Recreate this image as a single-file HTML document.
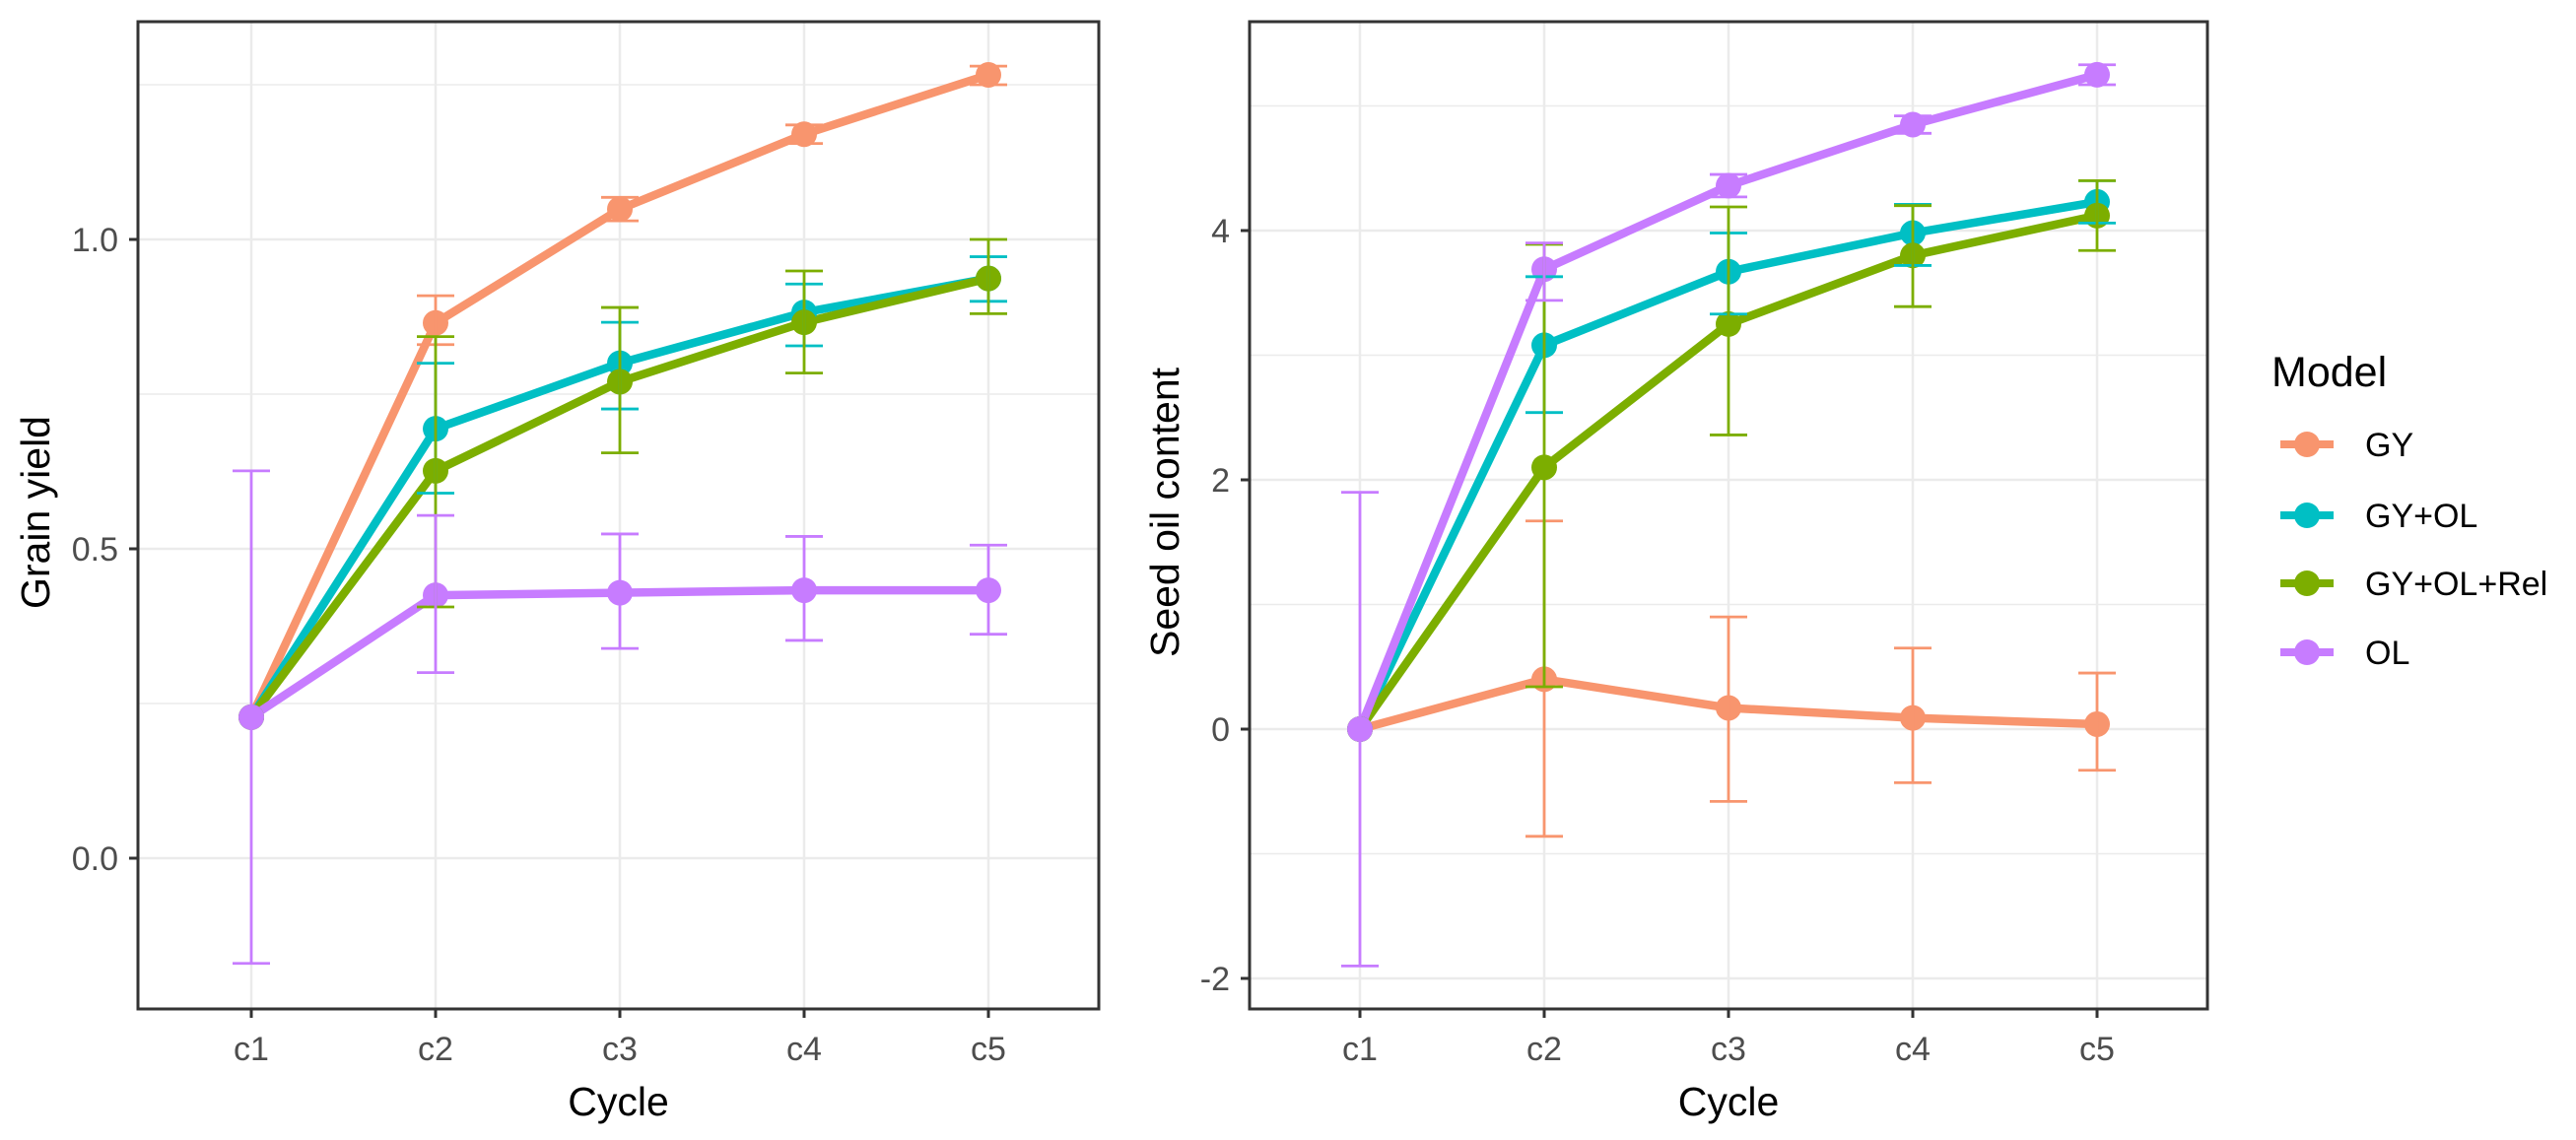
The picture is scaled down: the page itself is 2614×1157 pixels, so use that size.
<!DOCTYPE html>
<html><head><meta charset="utf-8"><style>
html,body{margin:0;padding:0;background:#fff;}
svg{display:block;font-family:"Liberation Sans",Arial,sans-serif;}
</style></head><body>
<svg id="chart" width="2614" height="1157" viewBox="0 0 2614 1157" xmlns="http://www.w3.org/2000/svg">
<rect x="0" y="0" width="2614" height="1157" fill="#fff"/>
<g id="legend">
<text x="2305" y="392" font-size="43" fill="#000">Model</text>
</g>
</svg>
<script>
var categories=["c1","c2","c3","c4","c5"];
var models=["GY","GY+OL","GY+OL+Rel","OL"];
var colors=["#F8956E","#00BFC4","#7CAE00","#C77CFF"];
// Grain yield
var gyMean=[[0.228,0.865,1.049,1.17,1.266],[0.228,0.694,0.80,0.882,0.937],[0.228,0.626,0.77,0.866,0.937],[0.228,0.425,0.429,0.433,0.433]];
var gyLo=[[0.228,0.83,1.03,1.155,1.25],[0.228,0.59,0.726,0.828,0.90],[0.228,0.406,0.655,0.784,0.88],[-0.17,0.30,0.339,0.352,0.362]];
var gyHi=[[0.228,0.909,1.068,1.185,1.28],[0.228,0.80,0.866,0.928,0.972],[0.228,0.843,0.89,0.949,1.0],[0.626,0.554,0.524,0.52,0.506]];
var gyTicks=[0.0,0.5,1.0];
var gyTickLabels=["0.0","0.5","1.0"];
var gyMinor=[-0.25,0.25,0.75,1.25];
// Seed oil content
var soMean=[[0,0.40,0.17,0.09,0.04],[0,3.08,3.67,3.98,4.23],[0,2.10,3.25,3.80,4.12],[0,3.69,4.36,4.85,5.25]];
var soLo=[[0,-0.86,-0.58,-0.43,-0.33],[0,2.54,3.33,3.72,4.06],[0,0.34,2.36,3.39,3.84],[-1.9,3.44,4.27,4.78,5.17]];
var soHi=[[0,1.67,0.90,0.65,0.45],[0,3.63,3.98,4.21,4.40],[0,3.89,4.19,4.20,4.40],[1.9,3.90,4.45,4.92,5.33]];
var soTicks=[-2,0,2,4];
var soTickLabels=["-2","0","2","4"];
var soMinor=[-1,1,3,5];

var NS="http://www.w3.org/2000/svg";
var svg=document.getElementById('chart');
function mk(tag,attrs,parent){var e=document.createElementNS(NS,tag);for(var k in attrs)e.setAttribute(k,attrs[k]);(parent||svg).appendChild(e);return e;}

function panel(cfg){
  var g=mk('g',{});
  
  
  var L=cfg.left,R=cfg.right,T=22,B=1024;
  function xs(i){return cfg.x0+i*187;}
  function ys(v){return cfg.yRef-(v-cfg.vRef)*cfg.ppu;}
  cfg.minor.forEach(function(v){var y=ys(v);if(y>T&&y<B){var l=mk('line',{x1:L,x2:R,y1:y,y2:y,stroke:'#ebebeb','stroke-width':1.5},g);}});
  cfg.ticks.forEach(function(v){var y=ys(v);var l=mk('line',{x1:L,x2:R,y1:y,y2:y,stroke:'#ebebeb','stroke-width':2.5},g);});
  categories.forEach(function(c,i){var x=xs(i);var l=mk('line',{x1:x,x2:x,y1:T,y2:B,stroke:'#ebebeb','stroke-width':2.5},g);});
  models.forEach(function(m,s){
    var sg=mk('g',{},g);
    
    
    var pts=cfg.mean[s].map(function(v,i){return xs(i)+','+ys(v);}).join(' ');
    var pl=mk('polyline',{points:pts,fill:'none',stroke:colors[s],'stroke-width':8.5,'stroke-linejoin':'round'},sg);
    
    
  });
  models.forEach(function(m,s){
    cfg.mean[s].forEach(function(v,i){
      var c=mk('circle',{cx:xs(i),cy:ys(v),r:13,fill:colors[s]},g);
      
      
    });
  });
  models.forEach(function(m,s){
    cfg.mean[s].forEach(function(v,i){
      var lo=cfg.lo[s][i],hi=cfg.hi[s][i];
      if(Math.abs(hi-lo)<1e-9)return;
      var x=xs(i),e=mk('g',{stroke:colors[s],'stroke-width':2.8},g);
      
      
      mk('line',{x1:x,x2:x,y1:ys(lo),y2:ys(hi)},e);
      mk('line',{x1:x-19,x2:x+19,y1:ys(lo),y2:ys(lo)},e);
      mk('line',{x1:x-19,x2:x+19,y1:ys(hi),y2:ys(hi)},e);
    });
  });
  var bd=mk('rect',{x:L,y:T,width:R-L,height:B-T,fill:'none',stroke:'#333','stroke-width':3},g);
  
  
  cfg.ticks.forEach(function(v,k){var y=ys(v);
    mk('line',{x1:L-9,x2:L,y1:y,y2:y,stroke:'#333','stroke-width':3},g);
    var t=mk('text',{x:L-20,y:y+12,'font-size':34,fill:'#4d4d4d','text-anchor':'end'},g);
    t.textContent=cfg.tickLabels[k];
    
    });
  categories.forEach(function(c,i){var x=xs(i);
    mk('line',{x1:x,x2:x,y1:B,y2:B+9,stroke:'#333','stroke-width':3},g);
    var t=mk('text',{x:x,y:1076,'font-size':34,fill:'#4d4d4d','text-anchor':'middle'},g);
    t.textContent=c;
    
    });
  var xt=mk('text',{x:(L+R)/2,y:1132,'font-size':41,fill:'#000','text-anchor':'middle'},g);
  xt.textContent='Cycle';
  
  
  var yt=mk('text',{x:0,y:0,'font-size':41,fill:'#000','text-anchor':'middle',transform:'translate('+cfg.ytx+',520) rotate(-90)'},g);
  yt.textContent=cfg.ytitle;
  
  
}
panel({name:'grain-yield-panel',left:140,right:1115,x0:255,yRef:243,vRef:1.0,ppu:628,mean:gyMean,lo:gyLo,hi:gyHi,ticks:gyTicks,tickLabels:gyTickLabels,minor:gyMinor,ytitle:'Grain yield',ytx:50});
panel({name:'seed-oil-panel',left:1268,right:2240,x0:1380,yRef:740,vRef:0,ppu:126.5,mean:soMean,lo:soLo,hi:soHi,ticks:soTicks,tickLabels:soTickLabels,minor:soMinor,ytitle:'Seed oil content',ytx:1196});

var lg=document.getElementById('legend');
var keyY=[451,523,592,662];
models.forEach(function(m,s){
  var e=mk('g',{},lg);
  
  
  mk('line',{x1:2314,x2:2368,y1:keyY[s],y2:keyY[s],stroke:colors[s],'stroke-width':8},e);
  mk('circle',{cx:2341,cy:keyY[s],r:13,fill:colors[s]},e);
  var t=mk('text',{x:2400,y:keyY[s]+12,'font-size':34,fill:'#000'},e);
  t.textContent=m;
});
</script>
</body></html>
